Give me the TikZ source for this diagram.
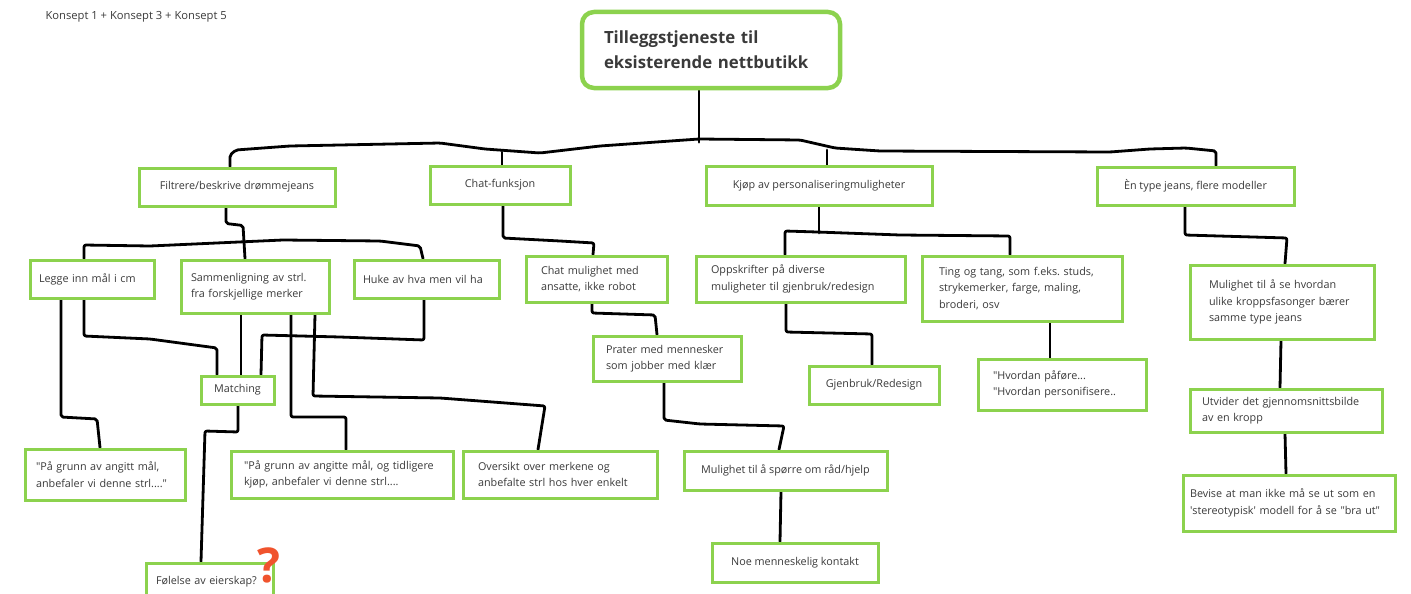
\documentclass[tikz,border=0pt]{standalone}
\usepackage{fontspec}
\setmainfont{Open Sans}
\usetikzlibrary{calc,backgrounds}
\definecolor{mapgreen}{HTML}{8CD24E}
\definecolor{ink}{HTML}{3A3A3A}
\definecolor{askred}{HTML}{F0532D}
\frenchspacing
\begin{document}
\begin{tikzpicture}[
    x=1pt, y=-1pt,
    box/.style = {
      draw=mapgreen,
      line width=3pt,
      fill=white,
      inner ysep=0pt,
      align=left,
      text=ink,
      font=\fontsize{10.8}{16.5}\selectfont
    },
    mid/.style = {box, align=center, inner xsep=0pt},
    rootbox/.style = {
      draw=mapgreen,
      line width=4.5pt,
      fill=white,
      rounded corners=12pt,
      inner ysep=0pt,
      align=left,
      text=ink,
      font=\fontsize{16.8}{25}\selectfont\bfseries
    },
    wire/.style = {line width=2.8pt, black, line cap=round, line join=round, rounded corners=2pt}
  ]
\useasboundingbox (0,0) rectangle (1411,594);

\node[anchor=west, text=ink, font=\fontsize{11.2}{13}\selectfont] (title) at (42,17) {Konsept 1 + Konsept 3 + Konsept 5};

% root
\node[rootbox, text width=214pt, inner xsep=22pt, minimum height=76pt] (root) at (711,50) {Tilleggstjeneste til\\eksisterende nettbutikk};

% first level
\node[mid, minimum width=196pt, minimum height=38pt] (filt) at (237,187) {Filtrere/beskrive drømmejeans};
\node[mid, minimum width=140pt, minimum height=38pt] (chat) at (500,185) {Chat-funksjon};
\node[mid, minimum width=226pt, minimum height=39pt] (kjop) at (819,185.5) {Kjøp av personaliseringmuligheter};
\node[mid, minimum width=197pt, minimum height=38pt] (entype) at (1195.5,186) {Èn type jeans, flere modeller};

% second level
\node[box, text width=106pt, inner xsep=9pt, minimum height=38pt] (legge) at (92,279) {Legge inn mål i cm};
\node[box, text width=128pt, inner xsep=10pt, minimum height=53pt] (sam) at (255,286.5) {Sammenligning av strl.\\fra forskjellige merker};
\node[box, text width=127pt, inner xsep=9pt, minimum height=38pt] (huke) at (426.5,279) {Huke av hva men vil ha};
\node[box, text width=111pt, inner xsep=15pt, minimum height=46pt] (chatm) at (596.5,279) {Chat mulighet med\\ansatte, ikke robot};
\node[box, text width=179pt, inner xsep=15pt, minimum height=46pt] (oppsk) at (800.5,279) {Oppskrifter på diverse\\muligheter til gjenbruk/redesign};
\node[box, text width=166pt, inner xsep=17pt, minimum height=65pt] (ting) at (1022,288.5) {Ting og tang, som f.eks. studs,\\strykemerker, farge, maling,\\broderi, osv};
\node[box, text width=146pt, inner xsep=19pt, minimum height=74pt] (mulse) at (1282,302) {Mulighet til å se hvordan\\ulike kroppsfasonger bærer\\samme type jeans};

% third level
\node[mid, minimum width=73pt, minimum height=28pt] (match) at (237.5,390) {Matching};
\node[box, text width=122pt, inner xsep=13pt, minimum height=45pt] (prater) at (667,358.5) {Prater med mennesker\\som jobber med klær};
\node[mid, minimum width=130pt, minimum height=38pt] (gjen) at (874,385) {Gjenbruk/Redesign};
\node[box, text width=138pt, inner xsep=15pt, minimum height=51pt] (hvord) at (1062,384.5) {\textquotedbl Hvordan påføre...\\\textquotedbl Hvordan personifisere..};
\node[box, text width=168pt, inner xsep=12pt, minimum height=43pt] (utv) at (1286,410.5) {Utvider det gjennomsnittsbilde\\av en kropp};

% fourth level
\node[box, text width=138pt, inner xsep=11pt, minimum height=51pt] (pga1) at (105,474.5) {\textquotedbl På grunn av angitt mål,\\anbefaler vi denne strl....\textquotedbl};
\node[box, text width=196pt, inner xsep=13pt, minimum height=47pt] (pga2) at (342,474.5) {\textquotedbl På grunn av angitte mål, og tidligere\\kjøp, anbefaler vi denne strl....};
\node[box, text width=164pt, inner xsep=15pt, minimum height=47pt] (overs) at (560,474.5) {Oversikt over merkene og\\anbefalte strl hos hver enkelt};
\node[mid, minimum width=203pt, minimum height=39pt] (sporr) at (785.5,470.5) {Mulighet til å spørre om råd/hjelp};
\node[box, text width=198pt, inner xsep=7pt, minimum height=56pt] (bev) at (1289,503) {Bevise at man ikke må se ut som en\\\textquotesingle stereotypisk\textquotesingle{} modell for å se \textquotedbl bra ut\textquotedbl};

% bottom
\node[mid, minimum width=166pt, minimum height=39pt] (noe) at (795,562.5) {Noe menneskelig kontakt};
\node[box, text width=107pt, inner xsep=10pt, minimum height=38pt] (fol) at (209.5,582) {Følelse av eierskap?};
\node[text=askred, font=\fontsize{48}{48}\selectfont\bfseries] (ask) at (269,565) {?};

\begin{pgfonlayer}{background}
% root bus
\draw[wire] ([xshift=-12pt]root.south) -- ++(0,52);
\draw[wire] ([xshift=-7pt]filt.north) -- (230,155) -- (236,150) -- (290,146) -- (440,143) -- (485,149) -- (540,153) -- (600,146) -- (699,139) -- (800,140) -- (835,148) -- (880,151) -- (1110,152) -- (1150,149) -- (1186,148) -- (1216,151) -- ([xshift=20.5pt]entype.north);
\draw[wire] ([xshift=2pt]chat.north) -- (502,152);
\draw[wire] ([xshift=8pt]kjop.north) -- (827,150);

% filtrere
\draw[wire] ([xshift=-11pt]filt.south) -- ++(0,16) -- ++(17,2) -- ([xshift=-10pt]sam.north);
\draw[wire] ([xshift=-8pt]legge.north) -- (84,245) -- (150,246) -- (283,240) -- (380,241) -- (420,246) -- ([xshift=-3.5pt]huke.north);
\draw[wire] ([xshift=-31pt]legge.south) -- (61,417) -- (97,419) -- ([xshift=-5pt]pga1.north);
\draw[wire] ([xshift=-8pt]legge.south) -- (84,336) -- (150,339) -- (217,348) -- ([xshift=-20.5pt]match.north);
\draw[wire] ([xshift=-14pt]sam.south) -- ([xshift=3.5pt]match.north);
\draw[wire] ([xshift=-2.5pt]huke.south) -- (424,340) -- (340,337) -- (262,335) -- ([xshift=23.5pt]match.north);
\draw[wire] ([xshift=36pt]sam.south) -- (291,417) -- (346,417) -- ([xshift=4pt]pga2.north);
\draw[wire] ([xshift=60pt]sam.south) -- (313,396) -- (440,398) -- (545,406) -- ([xshift=-22pt]overs.north);
\draw[wire] ([xshift=0.5pt]match.south) -- (238,432) -- (205,431) -- ([xshift=-8.5pt]fol.north);

% chat
\draw[wire] ([xshift=3pt]chat.south) -- (503,238) -- (560,241) -- (594,243) -- ([xshift=-3.5pt]chatm.north);
\draw[wire] ([xshift=-4.5pt]chatm.south) -- (592,313) -- (655,315) -- ([xshift=-10pt]prater.north);
\draw[wire] ([xshift=-3pt]prater.south) -- (664,420) -- (700,424) -- (784,426) -- ([xshift=-6.5pt]sporr.north);
\draw[wire] ([xshift=-4.5pt]sporr.south) -- ([xshift=-15pt]noe.north);

% kjop
\draw[wire] (kjop.south) -- (819,233);
\draw[wire] ([xshift=-15.5pt]oppsk.north) -- (785,231) -- (817,232) -- (900,235) -- (1010,236) -- ([xshift=-12pt]ting.north);
\draw[wire] ([xshift=-14.5pt]oppsk.south) -- (786,332) -- (872,334) -- ([xshift=-2pt]gjen.north);
\draw[wire] ([xshift=28pt]ting.south) -- ([xshift=-12pt]hvord.north);

% en type
\draw[wire] ([xshift=-10.5pt]entype.south) -- (1185,235) -- (1287,238) -- ([xshift=3pt]mulse.north);
\draw[wire] ([xshift=-1pt]mulse.south) -- ([xshift=-6pt]utv.north);
\draw[wire] ([xshift=-1pt]utv.south) -- ([xshift=-3pt]bev.north);
\end{pgfonlayer}
\end{tikzpicture}
\end{document}
